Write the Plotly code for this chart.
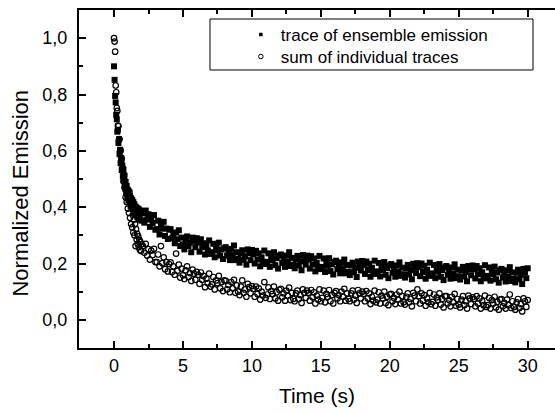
import numpy as np
import plotly.graph_objects as go

# sampling grid (s): dense at the start, 0.1 s afterwards
time_fast = np.round(np.arange(0, 2.0001, 0.04), 2)
time_slow = np.round(np.arange(2.1, 30.0001, 0.1), 1)

ensemble_fast = [
    0.900, 0.852, 0.795, 0.772, 0.728, 0.712, 0.668, 0.675, 0.628, 0.641,
    0.588, 0.604, 0.556, 0.575, 0.532, 0.548, 0.509, 0.534, 0.498, 0.512,
    0.466, 0.490, 0.452, 0.475, 0.438, 0.462, 0.424, 0.455, 0.418, 0.440,
    0.405, 0.432, 0.398, 0.426, 0.392, 0.418, 0.384, 0.410, 0.380, 0.402,
    0.372, 0.398, 0.366, 0.395, 0.362, 0.392, 0.358, 0.388, 0.355, 0.384, 0.352]

ensemble_slow = [
    0.378, 0.345, 0.388, 0.356, 0.375, 0.330, 0.360, 0.344, 0.372, 0.320,
    0.322, 0.352, 0.303, 0.336, 0.324, 0.348, 0.298, 0.324, 0.287, 0.320,
    0.322, 0.290, 0.303, 0.272, 0.310, 0.286, 0.318, 0.262, 0.292, 0.268,
    0.250, 0.284, 0.296, 0.262, 0.274, 0.240, 0.292, 0.280, 0.258, 0.290,
    0.275, 0.242, 0.286, 0.258, 0.272, 0.232, 0.262, 0.246, 0.282, 0.234,
    0.240, 0.270, 0.222, 0.256, 0.246, 0.274, 0.228, 0.250, 0.216, 0.254,
    0.258, 0.228, 0.240, 0.212, 0.252, 0.230, 0.264, 0.212, 0.240, 0.217,
    0.203, 0.236, 0.247, 0.213, 0.226, 0.196, 0.250, 0.236, 0.212, 0.248,
    0.233, 0.200, 0.245, 0.214, 0.236, 0.190, 0.222, 0.206, 0.246, 0.198,
    0.206, 0.236, 0.188, 0.223, 0.211, 0.240, 0.194, 0.219, 0.182, 0.228,
    0.232, 0.202, 0.215, 0.188, 0.228, 0.206, 0.240, 0.191, 0.220, 0.196,
    0.183, 0.216, 0.227, 0.193, 0.208, 0.176, 0.230, 0.216, 0.196, 0.228,
    0.214, 0.182, 0.226, 0.196, 0.218, 0.172, 0.203, 0.187, 0.227, 0.180,
    0.188, 0.218, 0.170, 0.204, 0.192, 0.219, 0.173, 0.197, 0.161, 0.205,
    0.210, 0.180, 0.192, 0.165, 0.204, 0.183, 0.214, 0.165, 0.195, 0.171,
    0.159, 0.193, 0.203, 0.169, 0.185, 0.152, 0.207, 0.195, 0.175, 0.209,
    0.195, 0.163, 0.207, 0.177, 0.199, 0.153, 0.185, 0.169, 0.210, 0.163,
    0.172, 0.202, 0.154, 0.189, 0.177, 0.205, 0.160, 0.184, 0.148, 0.193,
    0.198, 0.167, 0.180, 0.153, 0.193, 0.171, 0.204, 0.156, 0.185, 0.162,
    0.150, 0.184, 0.195, 0.161, 0.177, 0.144, 0.199, 0.187, 0.166, 0.201,
    0.187, 0.155, 0.200, 0.170, 0.192, 0.146, 0.178, 0.162, 0.203, 0.156,
    0.165, 0.195, 0.148, 0.183, 0.171, 0.198, 0.153, 0.177, 0.141, 0.186,
    0.191, 0.160, 0.173, 0.146, 0.186, 0.164, 0.197, 0.148, 0.178, 0.155,
    0.143, 0.177, 0.188, 0.154, 0.170, 0.137, 0.191, 0.179, 0.158, 0.193,
    0.179, 0.147, 0.191, 0.162, 0.183, 0.137, 0.169, 0.153, 0.194, 0.147,
    0.156, 0.186, 0.139, 0.174, 0.162, 0.189, 0.144, 0.168, 0.132, 0.176,
    0.181, 0.150, 0.163, 0.136, 0.176, 0.154, 0.187, 0.138, 0.168, 0.145,
    0.133, 0.167, 0.178, 0.144, 0.160, 0.127, 0.181, 0.169, 0.148, 0.183]

sum_fast = [
    1.000, 0.988, 0.952, 0.832, 0.808, 0.752, 0.742, 0.690, 0.688, 0.640,
    0.642, 0.598, 0.602, 0.560, 0.572, 0.530, 0.538, 0.492, 0.515, 0.470,
    0.482, 0.435, 0.462, 0.418, 0.445, 0.395, 0.432, 0.380, 0.455, 0.362,
    0.418, 0.340, 0.398, 0.328, 0.372, 0.310, 0.356, 0.300, 0.340, 0.262,
    0.322, 0.285, 0.305, 0.270, 0.296, 0.258, 0.284, 0.248, 0.276, 0.244, 0.268]

sum_slow = [
    0.262, 0.238, 0.270, 0.228, 0.251, 0.214, 0.246, 0.230, 0.252, 0.205,
    0.205, 0.232, 0.190, 0.262, 0.201, 0.222, 0.180, 0.205, 0.172, 0.198,
    0.204, 0.170, 0.190, 0.160, 0.235, 0.174, 0.196, 0.150, 0.182, 0.158,
    0.145, 0.176, 0.190, 0.152, 0.166, 0.138, 0.178, 0.164, 0.142, 0.170,
    0.160, 0.128, 0.168, 0.142, 0.156, 0.116, 0.146, 0.130, 0.164, 0.118,
    0.126, 0.152, 0.108, 0.140, 0.130, 0.156, 0.112, 0.134, 0.102, 0.140,
    0.138, 0.108, 0.124, 0.098, 0.134, 0.112, 0.142, 0.096, 0.122, 0.100,
    0.088, 0.118, 0.140, 0.096, 0.108, 0.082, 0.128, 0.116, 0.094, 0.120,
    0.110, 0.082, 0.118, 0.092, 0.112, 0.072, 0.100, 0.086, 0.134, 0.078,
    0.090, 0.115, 0.074, 0.102, 0.092, 0.118, 0.076, 0.098, 0.068, 0.106,
    0.110, 0.080, 0.094, 0.068, 0.104, 0.086, 0.114, 0.070, 0.096, 0.074,
    0.066, 0.094, 0.104, 0.074, 0.088, 0.060, 0.108, 0.096, 0.078, 0.104,
    0.096, 0.068, 0.106, 0.080, 0.098, 0.058, 0.086, 0.072, 0.108, 0.066,
    0.078, 0.104, 0.062, 0.092, 0.082, 0.106, 0.066, 0.088, 0.058, 0.096,
    0.102, 0.076, 0.088, 0.066, 0.100, 0.082, 0.110, 0.068, 0.094, 0.074,
    0.066, 0.094, 0.104, 0.072, 0.086, 0.060, 0.106, 0.094, 0.076, 0.100,
    0.092, 0.066, 0.102, 0.076, 0.094, 0.056, 0.082, 0.068, 0.104, 0.062,
    0.072, 0.098, 0.058, 0.086, 0.076, 0.100, 0.060, 0.082, 0.052, 0.090,
    0.092, 0.066, 0.078, 0.056, 0.090, 0.072, 0.100, 0.058, 0.084, 0.062,
    0.054, 0.082, 0.094, 0.062, 0.074, 0.048, 0.096, 0.086, 0.066, 0.108,
    0.084, 0.058, 0.094, 0.068, 0.088, 0.050, 0.076, 0.062, 0.096, 0.056,
    0.064, 0.090, 0.050, 0.080, 0.070, 0.094, 0.054, 0.074, 0.044, 0.084,
    0.084, 0.058, 0.070, 0.048, 0.082, 0.062, 0.092, 0.050, 0.074, 0.054,
    0.044, 0.072, 0.084, 0.052, 0.066, 0.040, 0.086, 0.076, 0.056, 0.080,
    0.074, 0.048, 0.084, 0.058, 0.076, 0.040, 0.066, 0.052, 0.086, 0.046,
    0.052, 0.078, 0.040, 0.070, 0.058, 0.082, 0.044, 0.064, 0.036, 0.072,
    0.074, 0.048, 0.060, 0.040, 0.072, 0.052, 0.090, 0.042, 0.066, 0.046,
    0.036, 0.062, 0.074, 0.042, 0.056, 0.030, 0.076, 0.066, 0.046, 0.070]

series_names = ["trace of ensemble emission", "sum of individual traces"]
x_ticks = [0, 5, 10, 15, 20, 25, 30]
y_ticks = [0.0, 0.2, 0.4, 0.6, 0.8, 1.0]

time = np.concatenate([time_fast, time_slow])
ensemble = np.array(ensemble_fast + ensemble_slow)
summed = np.array(sum_fast + sum_slow)

FONT = "Liberation Sans, Arial, sans-serif"

fig = go.Figure()
fig.add_trace(go.Scatter(
    x=time, y=ensemble, mode="markers", name=series_names[0], showlegend=False,
    marker=dict(symbol="square", size=6, color="black", line=dict(width=0)),
))
fig.add_trace(go.Scatter(
    x=time, y=summed, mode="markers", name=series_names[1], showlegend=False,
    marker=dict(symbol="circle-open", size=5.5, color="black", line=dict(width=1.2, color="black")),
))
# legend entries (small glyphs as in the original key)
fig.add_trace(go.Scatter(
    x=[None], y=[None], mode="markers", name=series_names[0], legend="legend",
    marker=dict(symbol="square", size=3.5, color="black", line=dict(width=0)),
))
fig.add_trace(go.Scatter(
    x=[None], y=[None], mode="markers", name=series_names[1], legend="legend2",
    marker=dict(symbol="circle-open", size=4.5, color="black", line=dict(width=1, color="black")),
))

# legend frame
fig.add_shape(type="rect", xref="paper", yref="paper",
              x0=0.2752, x1=0.9538, y0=0.8225, y1=0.9734,
              line=dict(color="black", width=1), fillcolor="white", layer="below")

axis_common = dict(
    showline=True, linecolor="black", linewidth=2,
    ticks="inside", ticklen=7, tickwidth=1.5, tickcolor="black",
    showgrid=False, zeroline=False, automargin=False,
    tickfont=dict(family=FONT, size=18, color="black"),
)

fig.update_xaxes(
    range=[-2.54, 31.98], tickvals=x_ticks, mirror="allticks",
    minor=dict(ticks="inside", ticklen=4, tickwidth=1.5, dtick=2.5, tick0=0, tickcolor="black", showgrid=False),
    title=dict(text="Time (s)", font=dict(family=FONT, size=21, color="black"), standoff=14),
    **axis_common,
)
fig.update_yaxes(
    range=[-0.1, 1.1], tickvals=y_ticks, tickformat=".1f", mirror=False,
    minor=dict(ticks="inside", ticklen=4, tickwidth=1.5, dtick=0.1, tick0=0.1, tickcolor="black", showgrid=False),
    ticklabelstandoff=6,
    **axis_common,
)

fig.add_annotation(
    text="Normalized Emission", textangle=-90, showarrow=False,
    xref="paper", yref="paper", x=-0.1218, y=0.457, xanchor="center", yanchor="middle",
    font=dict(family=FONT, size=22, color="black"),
)

legend_common = dict(xanchor="left", yanchor="middle", x=0.340,
                     bgcolor="rgba(0,0,0,0)", borderwidth=0,
                     font=dict(family=FONT, size=17, color="black"),
                     itemsizing="trace")

fig.update_layout(
    width=555, height=414,
    margin=dict(l=79, r=0, t=10, b=66),
    paper_bgcolor="white", plot_bgcolor="white",
    separators=", ",
    font=dict(family=FONT, color="black"),
    legend=dict(y=0.926, **legend_common),
    legend2=dict(y=0.861, **legend_common),
)

fig.write_html("out.html", config={"displayModeBar": False},
               post_script="document.body.style.margin='0';document.body.style.padding='0';")
